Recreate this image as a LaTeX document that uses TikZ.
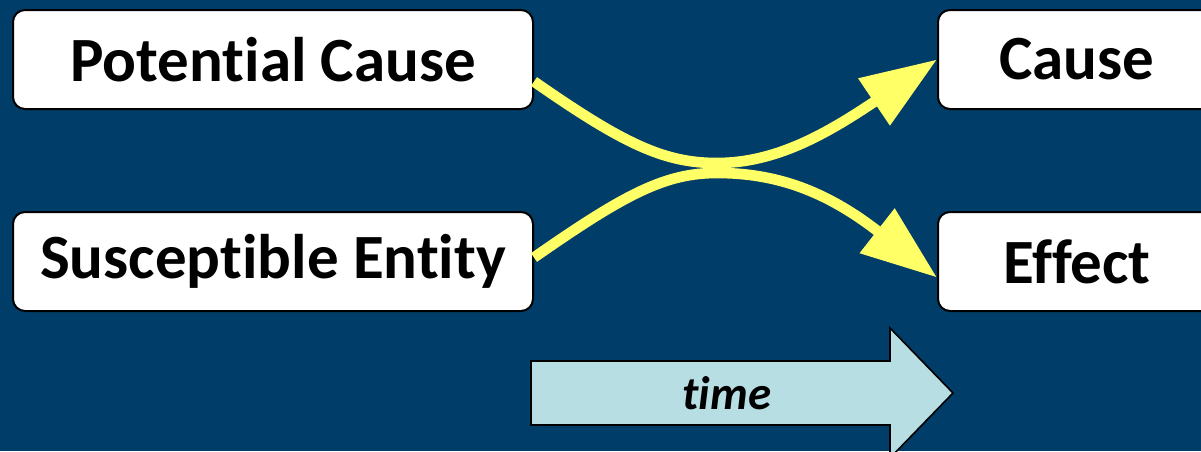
\documentclass[tikz,border=0pt]{standalone}
\usepackage{fontspec}
\setmainfont[Ligatures=NoCommon]{Carlito}
\usetikzlibrary{arrows.meta}
\definecolor{bg}{RGB}{0,61,104}
\definecolor{ylw}{RGB}{255,255,102}
\definecolor{timefill}{RGB}{183,223,227}
\begin{document}
\begin{tikzpicture}[x=0.5pt,y=-0.5pt,
  box/.style={draw=black,line width=1pt,fill=white,rounded corners=6pt,
    minimum height=49.5pt,inner sep=0pt,font=\fontsize{31.5}{34}\selectfont\bfseries},
  flow/.style={draw=ylw,line width=5.3pt,-{Triangle[length=38pt,width=27pt]}},
  timearrow/.style={draw=black,line width=0.8pt,fill=timefill},
  timelabel/.style={font=\fontsize{23.5}{26}\selectfont\bfseries\itshape}]
\fill[bg] (0,0) rectangle (1201,451);
\useasboundingbox (0,0) rectangle (1201,451);
\begin{scope}
\clip (0,0) rectangle (1201,451);
\node[box,minimum width=260pt] (pc) at (273,59.5) {Potential Cause};
\node[box,minimum width=260pt] (se) at (273,261.5) {Susceptible Entity};
\node[box,minimum width=139pt] (ca) at (1077,59.5) {Cause};
\node[box,minimum width=139pt] (ef) at (1077,261.5) {Effect};
\coordinate (pcout) at ([yshift=-11pt]pc.east);
\coordinate (seout) at ([yshift=2pt]se.east);
\coordinate (efin) at ([yshift=-8pt]ef.west);
\coordinate (k1) at (717,163);
\coordinate (k2) at (717,173);
\draw[flow] (pcout) .. controls (625,145) and (665,163) .. (k1)
  .. controls (775,163) and (825,135) .. (ca.west);
\draw[flow] (seout) .. controls (625,194) and (665,173) .. (k2)
  .. controls (775,173) and (825,190) .. (efin);
\draw[timearrow] (531,361) -- (890,361) -- (890,328) -- (953,393) -- (890,458)
  -- (890,425) -- (531,425) -- cycle;
\node[timelabel] (tm) at (727,393) {time};
\end{scope}
\end{tikzpicture}
\end{document}
